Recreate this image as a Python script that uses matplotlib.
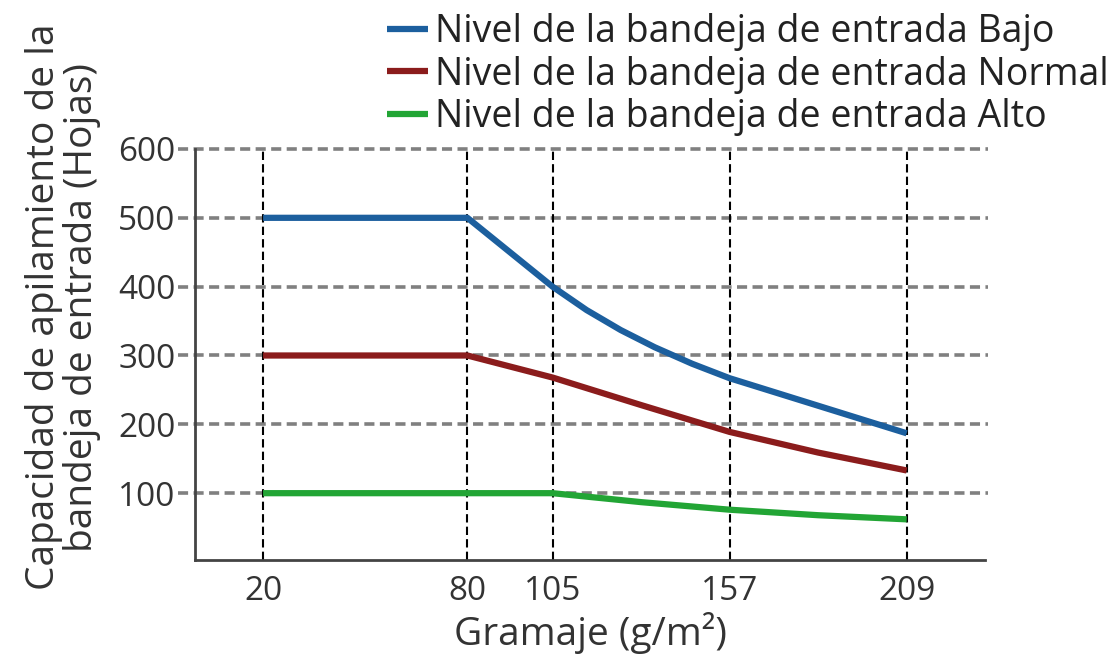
import matplotlib
matplotlib.use("Agg")
import matplotlib.pyplot as plt

plt.rcParams['font.family'] = ['Open Sans', 'DejaVu Sans']

# gramaje (g/m2) and capacity (sheets) per tray level
x_ticks = [20, 80, 105, 157, 209]
y_ticks = [100, 200, 300, 400, 500, 600]

gram_bajo = [20, 80, 105, 115, 125, 135, 146, 157, 183, 209]
cap_bajo = [500, 500, 400, 366, 337, 312, 288, 267, 227, 187]

gram_normal = [20, 80, 105, 131, 157, 183, 209]
cap_normal = [300, 300, 268, 228, 189, 159, 133]

gram_alto = [20, 80, 105, 131, 157, 183, 209]
cap_alto = [100, 100, 100, 87, 76, 68, 62]

labels = ["Nivel de la bandeja de entrada Bajo",
          "Nivel de la bandeja de entrada Normal",
          "Nivel de la bandeja de entrada Alto"]
colors = ["#1c5f9e", "#8b1c1c", "#22a535"]

fig = plt.figure(figsize=(11.13, 6.58), dpi=100)
ax = fig.add_axes([0.1752, 0.149, 0.885 - 0.1752, 0.7736 - 0.149])
ax.set_xlim(0, 232)
ax.set_ylim(3, 600)

# grid
ax.hlines(y_ticks, -5, 233, colors="#808080", linestyles=(0, (2.8, 1.5)),
          linewidth=2.6, clip_on=False, zorder=1)
ax.vlines(x_ticks, 3, 600, colors="black", linestyles=(0, (4, 2)),
          linewidth=1.5, zorder=1)

for gx, cy, lab, c in zip([gram_bajo, gram_normal, gram_alto],
                          [cap_bajo, cap_normal, cap_alto], labels, colors):
    ax.plot(gx, cy, color=c, linewidth=4.5, label=lab, zorder=3,
            solid_capstyle='butt', solid_joinstyle='round')

for s in ['top', 'right']:
    ax.spines[s].set_visible(False)
for s in ['left', 'bottom']:
    ax.spines[s].set_color('#444444')
    ax.spines[s].set_linewidth(2)

ax.set_xticks(x_ticks)
ax.set_yticks(y_ticks)
ax.tick_params(length=0, labelsize=24, colors='#333333', pad=11)
ax.tick_params(axis='y', pad=14)

ax.set_xlabel("Gramaje (g/m²)", fontsize=28, color='#333333', labelpad=3)
ax.set_ylabel("Capacidad de apilamiento de la\nbandeja de entrada (Hojas)",
              fontsize=28, color='#333333', linespacing=1.0)
ax.yaxis.set_label_coords(-0.119, 0.615)

fig.legend(loc='upper right', bbox_to_anchor=(1.02, 1.02), frameon=False,
           fontsize=27, handlelength=1.1, handletextpad=0.2,
           labelspacing=0.12, borderaxespad=0.3, labelcolor='#222222')

fig.savefig("out.png", dpi=100)
